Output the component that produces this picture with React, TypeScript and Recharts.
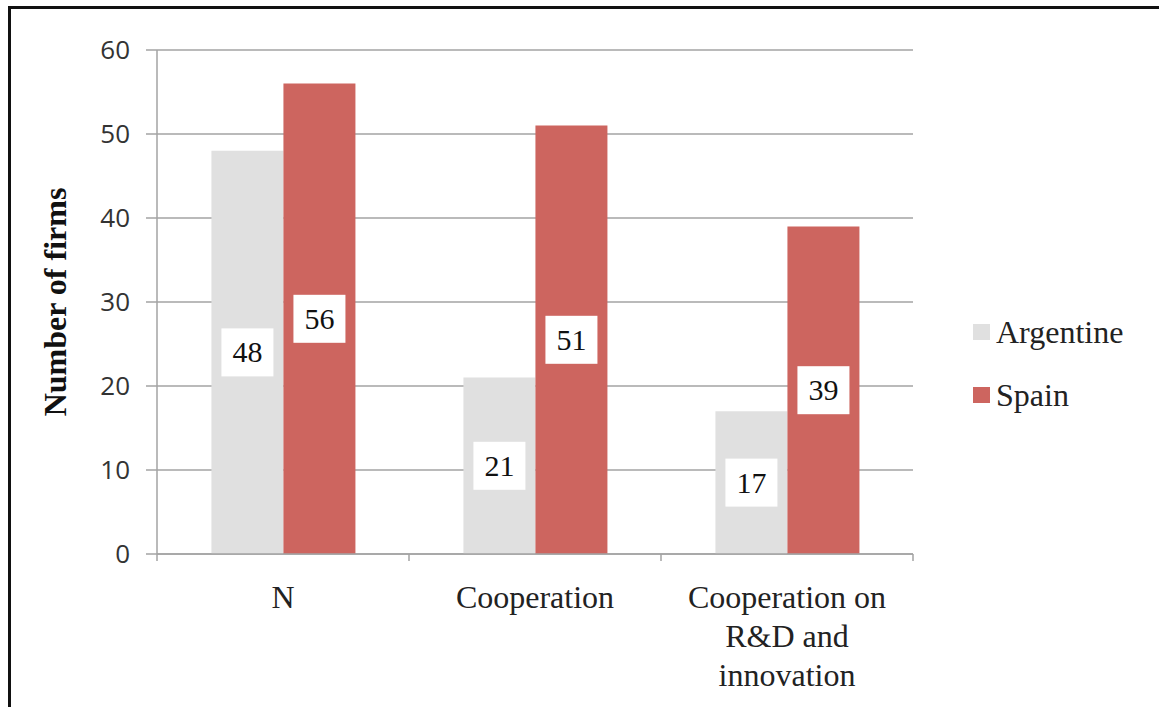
import React from "react";
import { ComposedChart, Bar, XAxis, YAxis, CartesianGrid, LabelList, Label } from "recharts";

const categories = ["N", "Cooperation", "Cooperation on\nR&D and\ninnovation"];
const argentine = [48, 21, 17];
const spain = [56, 51, 39];
const yTicks = [0, 10, 20, 30, 40, 50, 60];

const seriesNames = ["Argentine", "Spain"];
const colors = ["#e0e0e0", "#cd655f"];

const data = categories.map((c, i) => ({ cat: c, Argentine: argentine[i], Spain: spain[i] }));

const SERIF = "'Liberation Serif', 'Times New Roman', serif";
const SANS = "'Open Sans', 'DejaVu Sans', sans-serif";
const AXIS = "#a3a3a3";

const XTick = (props: any) => {
  const { x, y, payload, width, visibleTicksCount, index } = props;
  const bw = width / visibleTicksCount;
  const lines = String(payload.value).split("\n");
  return (
    <g>
      <line x1={x - bw / 2} x2={x - bw / 2} y1={y} y2={y + 7} stroke={AXIS} strokeWidth={1.5} />
      {index === visibleTicksCount - 1 && (
        <line x1={x + bw / 2} x2={x + bw / 2} y1={y} y2={y + 7} stroke={AXIS} strokeWidth={1.5} />
      )}
      <text x={x} y={y} textAnchor="middle" style={{ fontFamily: SERIF, fontSize: 32 }} fill="#222">
        {lines.map((l, i) => (
          <tspan key={i} x={x} dy={i === 0 ? 54 : 39}>{l}</tspan>
        ))}
      </text>
    </g>
  );
};

const BoxLabel = (props: any) => {
  const { x, y, width, height, value } = props;
  const cx = x + width / 2;
  const cy = y + height / 2;
  return (
    <g>
      <rect x={cx - 26} y={cy - 24} width={52} height={48} fill="#fff" />
      <text x={cx} y={cy + 10} textAnchor="middle" style={{ fontFamily: SERIF, fontSize: 30 }} fill="#111">{value}</text>
    </g>
  );
};

export default function App() {
  return (
    <div style={{ position: "absolute", left: 0, top: 0, width: 1159, height: 707, overflow: "hidden", background: "#fff" }}>
      <div style={{ position: "absolute", left: 8, top: 6, width: 1300, height: 900, borderTop: "3px solid #111", borderLeft: "3px solid #111" }} />
      <ComposedChart
        width={1159}
        height={707}
        data={data}
        margin={{ top: 50, right: 246, bottom: 13, left: 0 }}
        barCategoryGap="21.6%"
        barGap={0}
        style={{ position: "absolute", left: 0, top: 0 }}
      >
        <CartesianGrid vertical={false} stroke={AXIS} strokeWidth={1.5} />
        <XAxis
          dataKey="cat"
          height={140}
          axisLine={{ stroke: AXIS, strokeWidth: 1.5 }}
          tickLine={false}
          tickSize={0}
          tickMargin={0}
          tick={<XTick />}
          interval={0}
        />
        <YAxis
          width={157}
          domain={[0, 60]}
          ticks={yTicks}
          tickSize={11}
          tickMargin={16}
          axisLine={{ stroke: AXIS, strokeWidth: 1.5 }}
          tickLine={{ stroke: AXIS, strokeWidth: 1.5 }}
          tick={{ fontFamily: SANS, fontSize: 26, fill: "#333" }}
        >
          <Label
            value="Number of firms"
            angle={-90}
            position="insideLeft"
            offset={55}
            style={{ textAnchor: "middle", fontFamily: SERIF, fontWeight: "bold", fontSize: 32, fill: "#111" }}
          />
        </YAxis>
        <Bar dataKey="Argentine" fill={colors[0]} isAnimationActive={false}>
          <LabelList dataKey="Argentine" content={<BoxLabel />} />
        </Bar>
        <Bar dataKey="Spain" fill={colors[1]} isAnimationActive={false}>
          <LabelList dataKey="Spain" content={<BoxLabel />} />
        </Bar>
      </ComposedChart>
      <div style={{ position: "absolute", left: 973, top: 314, fontFamily: SERIF, fontSize: 32, color: "#222" }}>
        {seriesNames.map((n, i) => (
          <div key={n} style={{ display: "flex", alignItems: "center", height: 36, marginBottom: i === 0 ? 27 : 0 }}>
            <span style={{ display: "inline-block", width: 17, height: 16, background: colors[i], marginRight: 6 }} />
            <span>{n}</span>
          </div>
        ))}
      </div>
    </div>
  );
}
